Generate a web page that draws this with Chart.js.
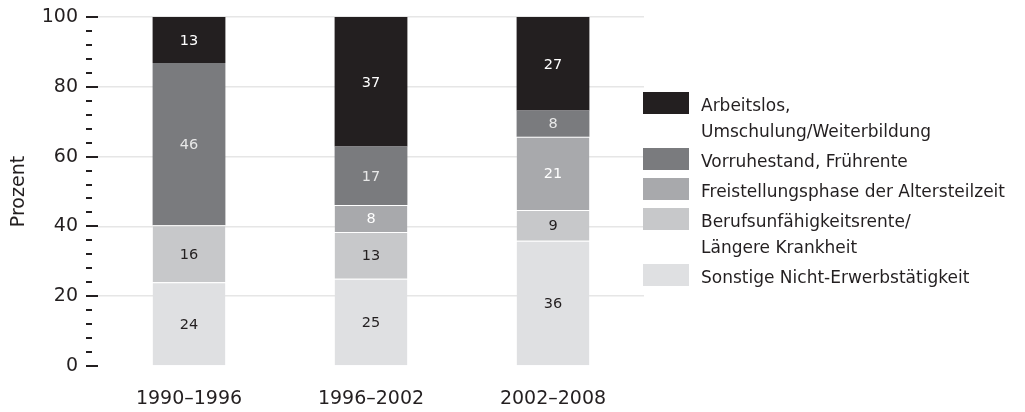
<!DOCTYPE html>
<html>
<head>
<meta charset="utf-8">
<script src="https://cdn.jsdelivr.net/npm/chart.js@4/dist/chart.umd.min.js"></script>
<style>
    html, body { margin: 0; padding: 0; background: #fff; }
    #wrap { position: relative; width: 1025px; height: 412px; }
    #legend {
        position: absolute; left: 643px; top: 92px;
        font-family: "DejaVu Sans", sans-serif; font-size: 17px; color: #231f20;
    }
    .item { display: flex; align-items: flex-start; margin-bottom: 4px; line-height: 26px; }
    .box { width: 46px; height: 22px; margin-right: 12px; flex: none; }
</style>
</head>
<body>
<div id="wrap">
    <canvas id="chart" width="1025" height="412"></canvas>
    <div id="legend"></div>
</div>
<script>
const categories = ["1990\u20131996", "1996\u20132002", "2002\u20132008"];

// values, printed labels as in the picture
const arbeitslos = [13.2, 37.1, 26.8];
const vorruhestand = [46.5, 16.8, 7.5];
const freistellung = [null, 7.7, 21.0];
const berufsunfaehig = [16.3, 13.4, 8.8];
const sonstige = [24.0, 25.0, 35.9];

const arbeitslosLabels = [13, 37, 27];
const vorruhestandLabels = [46, 17, 8];
const freistellungLabels = [null, 8, 21];
const berufsunfaehigLabels = [16, 13, 9];
const sonstigeLabels = [24, 25, 36];

const seriesNames = [
    ["Arbeitslos,", "Umschulung/Weiterbildung"],
    ["Vorruhestand, Fr\u00fchrente"],
    ["Freistellungsphase der Altersteilzeit"],
    ["Berufsunf\u00e4higkeitsrente/", "L\u00e4ngere Krankheit"],
    ["Sonstige Nicht-Erwerbst\u00e4tigkeit"],
];
const seriesColors = ["#231f20", "#7a7b7e", "#a8a9ac", "#c7c8ca", "#dfe0e2"];
const labelColors = ["#ffffff", "#e8e8e8", "#ffffff", "#231f20", "#231f20"];

const yMajor = [0, 20, 40, 60, 80, 100];

const ink = "#231f20";
const font = "DejaVu Sans";

// bottom-up stacking order
const stack = [
    { name: seriesNames[4], data: sonstige, labels: sonstigeLabels, idx: 4 },
    { name: seriesNames[3], data: berufsunfaehig, labels: berufsunfaehigLabels, idx: 3 },
    { name: seriesNames[2], data: freistellung, labels: freistellungLabels, idx: 2 },
    { name: seriesNames[1], data: vorruhestand, labels: vorruhestandLabels, idx: 1 },
    { name: seriesNames[0], data: arbeitslos, labels: arbeitslosLabels, idx: 0 },
];

const datasets = stack.map((s) => ({
    label: s.name.join(" "),
    data: s.data,
    valueLabels: s.labels,
    labelColor: labelColors[s.idx],
    backgroundColor: seriesColors[s.idx],
    borderColor: "#ffffff",
    borderWidth: s.idx >= 2 ? { top: 1, bottom: 0, left: 0, right: 0 } : 0,
    borderSkipped: false,
    barPercentage: 0.4,
    categoryPercentage: 1,
}));

// value labels inside segments + y-axis tick dashes
const extras = {
    id: "extras",
    afterDatasetsDraw(chart) {
        const ctx = chart.ctx;
        ctx.save();
        ctx.font = "14.5px '" + font + "'";
        ctx.textAlign = "center";
        ctx.textBaseline = "middle";
        chart.data.datasets.forEach((ds, i) => {
            chart.getDatasetMeta(i).data.forEach((bar, j) => {
                const v = ds.valueLabels[j];
                if (v == null) return;
                ctx.fillStyle = ds.labelColor;
                ctx.fillText(String(v), bar.x, (bar.y + bar.base) / 2 + 1);
            });
        });

        const y = chart.scales.y;
        const right = chart.chartArea.left;
        ctx.strokeStyle = ink;
        ctx.lineWidth = 2;
        for (let v = 0; v <= 100; v += 4) {
            const py = Math.round(y.getPixelForValue(v));
            const len = yMajor.includes(v) ? 12 : 6;
            ctx.beginPath();
            ctx.moveTo(right - 12, py);
            ctx.lineTo(right - 12 + len, py);
            ctx.stroke();
        }
        ctx.restore();
    },
};

new Chart(document.getElementById("chart"), {
    type: "bar",
    data: { labels: categories, datasets: datasets },
    options: {
        responsive: false,
        animation: false,
        layout: { padding: { top: 17, right: 381, left: 0, bottom: 0 } },
        plugins: {
            legend: { display: false },
            tooltip: { enabled: false },
        },
        scales: {
            x: {
                stacked: true,
                grid: { display: false, drawTicks: false },
                border: { display: false },
                ticks: { color: ink, font: { family: font, size: 19 }, padding: 22 },
                afterFit: (s) => { s.height = 46; s.paddingLeft = 0; s.paddingRight = 0; },
            },
            y: {
                stacked: true,
                min: 0,
                max: 100,
                grid: {
                    drawTicks: false,
                    lineWidth: 1.5,
                    color: (c) => (c.tick && c.tick.value !== 0 && yMajor.includes(c.tick.value) ? "#e6e6e6" : "rgba(0,0,0,0)"),
                },
                border: { display: false },
                ticks: {
                    stepSize: 4,
                    autoSkip: false,
                    padding: 20,
                    color: ink,
                    font: { family: font, size: 19 },
                    callback: (v) => (yMajor.includes(v) ? v : ""),
                },
                title: {
                    display: true,
                    text: "Prozent",
                    color: ink,
                    font: { family: font, size: 19 },
                    padding: { top: 8, bottom: 0 },
                },
                afterFit: (s) => { s.width = 98; s.paddingTop = 0; s.paddingBottom = 0; },
            },
        },
    },
    plugins: [extras],
});

// legend built from the series arrays
const legend = document.getElementById("legend");
seriesNames.forEach((lines, i) => {
    const item = document.createElement("div");
    item.className = "item";
    const box = document.createElement("div");
    box.className = "box";
    box.style.background = seriesColors[i];
    const text = document.createElement("div");
    text.innerHTML = lines.join("<br>");
    item.appendChild(box);
    item.appendChild(text);
    legend.appendChild(item);
});
</script>
</body>
</html>
